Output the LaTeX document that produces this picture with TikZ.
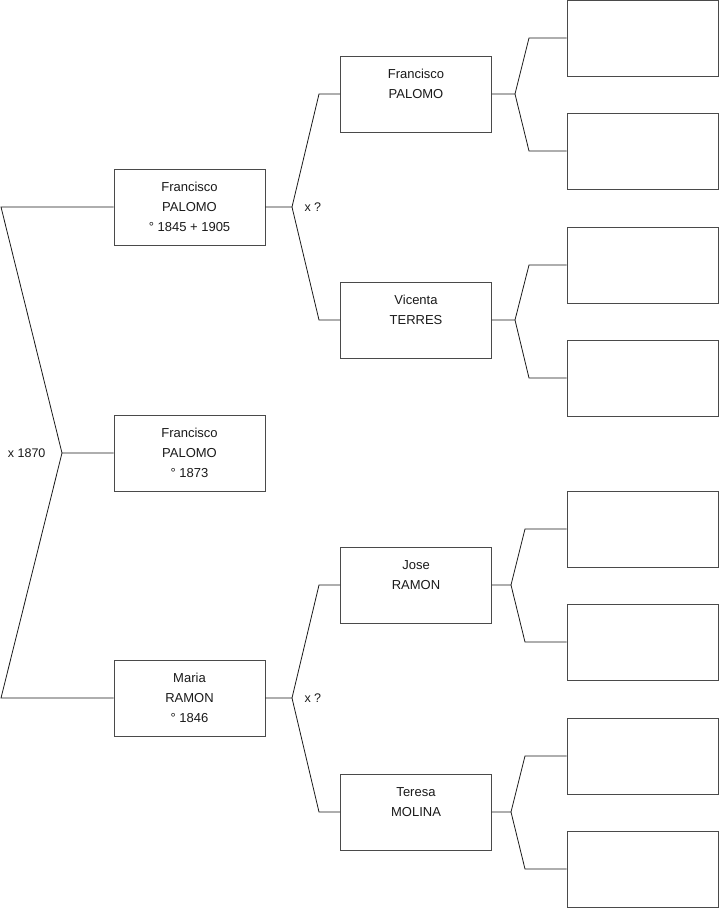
\documentclass[tikz,border=0pt]{standalone}
\usepackage{fontspec}
\setmainfont{Liberation Sans}
\usetikzlibrary{positioning,calc}
\definecolor{ink}{HTML}{1A1A1A}
\definecolor{ink2}{HTML}{4A4A4A}

\begin{document}
\begin{tikzpicture}[
  x=1pt, y=-1pt,
  person/.style={draw=ink2, line width=0.9pt, fill=white, align=center, minimum width=151pt, minimum height=76pt, inner sep=0pt, font=\fontsize{13}{20}\selectfont, text=ink},
  link/.style={draw=ink, line width=0.8pt},
  lab/.style={font=\fontsize{12.5}{15}\selectfont, text=ink},
]
\useasboundingbox (0,0) rectangle (719,908);
% generation 1 and 2
\node[person] (child) at (189.5,453) {Francisco\\PALOMO\\° 1873};
\node[person] (father) at (189.5,207) {Francisco\\PALOMO\\° 1845 + 1905};
\node[person] (mother) at (189.5,698) {Maria\\RAMON\\° 1846};
% generation 3
\node[person] (pgf) at (416,94) {Francisco\\PALOMO\\~};
\node[person] (pgm) at (416,320) {Vicenta\\TERRES\\~};
\node[person] (mgf) at (416,585) {Jose\\RAMON\\~};
\node[person] (mgm) at (416,812) {Teresa\\MOLINA\\~};
% generation 4 (empty)
\foreach \i/\yy in {1/38,2/151,3/265,4/378,5/529,6/642,7/756,8/869}
  \node[person] (gg\i) at (642.5,\yy) {};
% bends
\coordinate (j0) at (62,453);
\coordinate (f0) at (1,207);
\coordinate (m0) at (1,698);
\coordinate (jf) at (292,207);
\coordinate (jf1) at (319,94);
\coordinate (jf2) at (319,320);
\coordinate (jm) at (292,698);
\coordinate (jm1) at (319,585);
\coordinate (jm2) at (319,812);
\coordinate (ja) at (515,94);
\coordinate (ja1) at (529,38);
\coordinate (ja2) at (529,151);
\coordinate (jb) at (515,320);
\coordinate (jb1) at (529,265);
\coordinate (jb2) at (529,378);
\coordinate (jc) at (511,585);
\coordinate (jc1) at (525,529);
\coordinate (jc2) at (525,642);
\coordinate (jd) at (511,812);
\coordinate (jd1) at (525,756);
\coordinate (jd2) at (525,869);
% connectors
\draw[link] (child.west) -- (j0) -- (f0) -- (father.west);
\draw[link] (j0) -- (m0) -- (mother.west);
\node[lab, left=13pt of j0] (m1870) {x 1870};
\draw[link] (father.east) -- (jf) -- (jf1) -- (pgf.west);
\draw[link] (jf) -- (jf2) -- (pgm.west);
\node[lab, right=9pt of jf] (mf) {x ?};
\draw[link] (mother.east) -- (jm) -- (jm1) -- (mgf.west);
\draw[link] (jm) -- (jm2) -- (mgm.west);
\node[lab, right=9pt of jm] (mm) {x ?};
\draw[link] (pgf.east) -- (ja) -- (ja1) -- (gg1.west);
\draw[link] (ja) -- (ja2) -- (gg2.west);
\draw[link] (pgm.east) -- (jb) -- (jb1) -- (gg3.west);
\draw[link] (jb) -- (jb2) -- (gg4.west);
\draw[link] (mgf.east) -- (jc) -- (jc1) -- (gg5.west);
\draw[link] (jc) -- (jc2) -- (gg6.west);
\draw[link] (mgm.east) -- (jd) -- (jd1) -- (gg7.west);
\draw[link] (jd) -- (jd2) -- (gg8.west);
\end{tikzpicture}
\end{document}
